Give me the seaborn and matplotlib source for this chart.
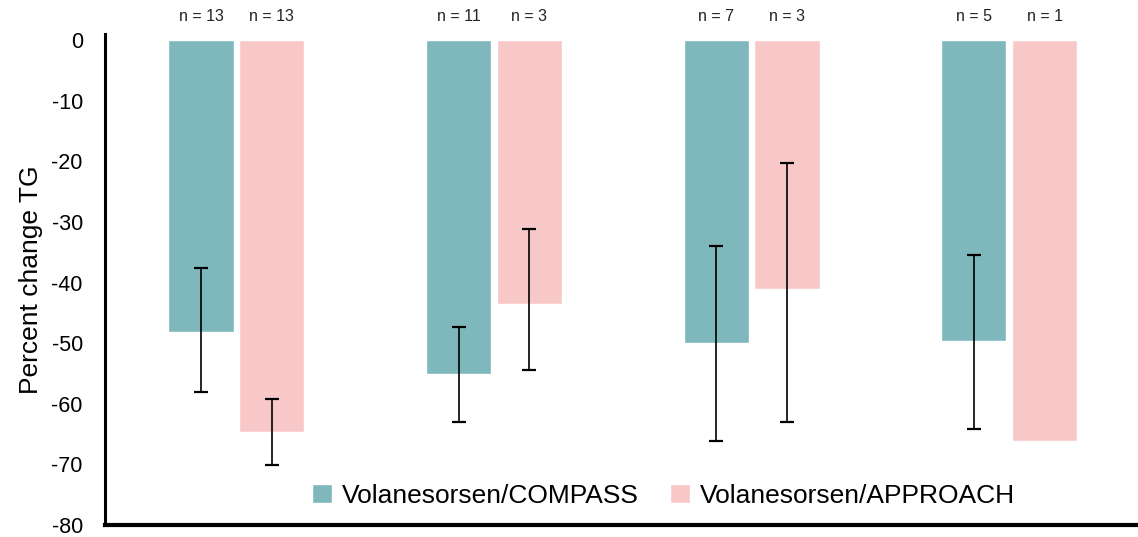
import numpy as np
import pandas as pd
import matplotlib
matplotlib.use("Agg")
import matplotlib.pyplot as plt
import seaborn as sns

# ================================================
#  Datos
# ================================================

grupos = ["G1", "G2", "G3", "G4"]
series = ["Volanesorsen/COMPASS", "Volanesorsen/APPROACH"]

compass_media = [-48.1, -55.1, -49.9, -49.6]
compass_inf = [-58.1, -63.0, -66.1, -64.2]
compass_sup = [-37.6, -47.4, -33.9, -35.5]
compass_n = [13, 11, 7, 5]

approach_media = [-64.6, -43.5, -41.0, -66.2]
approach_inf = [-70.1, -54.4, -63.0, np.nan]
approach_sup = [-59.2, -31.1, -20.3, np.nan]
approach_n = [13, 3, 3, 1]

colores = ["#7FB8BC", "#F8C8C8"]

# Armo la tabla en formato largo para seaborn
df = pd.DataFrame({
    "grupo": grupos * 2,
    "serie": [series[0]] * 4 + [series[1]] * 4,
    "cambio": compass_media + approach_media,
})

# ================================================
#  Gráfico
# ================================================

sns.set_theme(style="white")
plt.rcParams["font.family"] = ["Liberation Sans", "DejaVu Sans"]
plt.rcParams["axes.unicode_minus"] = False
plt.rcParams["text.color"] = "black"

fig = plt.figure(figsize=(11.38, 5.37), dpi=100)
ax = fig.add_axes([0.0923, 0.0223, 0.9077, 0.9144])

sns.barplot(data=df, x="grupo", y="cambio", hue="serie", palette=colores,
            saturation=1, width=0.55, gap=0.08, errorbar=None, ax=ax)

# Barras de error y etiquetas n = ...
info = [(compass_media, compass_inf, compass_sup, compass_n),
        (approach_media, approach_inf, approach_sup, approach_n)]
for cont, (media, inf, sup, ns) in zip(ax.containers, info):
    xs = [p.get_x() + p.get_width() / 2 for p in cont.patches]
    media = np.array(media)
    yerr = np.vstack([media - np.array(inf), np.array(sup) - media])
    ax.errorbar(xs, media, yerr=yerr, fmt="none", ecolor="black",
                elinewidth=1.2, capsize=4.7, capthick=1.6, zorder=5)
    for x, n in zip(xs, ns):
        ax.text(x, 3.85, f"n = {n}", ha="center", va="center",
                fontsize=11.5, color="#222222", clip_on=False)

ax.set_ylim(-80, 1)
ax.set_xlim(-0.51, 3.5)
ax.set_yticks(range(-80, 1, 10))
ax.set_xticks([])
ax.set_xlabel("")
ax.set_ylabel("Percent change TG", fontsize=19, labelpad=6, color="black")
ax.tick_params(axis="y", length=0, pad=16, labelsize=15.5, labelcolor="black")

sns.despine(ax=ax)
ax.spines["left"].set_linewidth(2.2)
ax.spines["bottom"].set_linewidth(3)
ax.spines["left"].set_color("black")
ax.spines["bottom"].set_color("black")

sns.move_legend(ax, "center", bbox_to_anchor=(0.5407, 0.06), ncol=2,
                frameon=False, title=None, fontsize=19, handlelength=0.76,
                handleheight=0.76, handletextpad=0.35, columnspacing=1.2,
                labelcolor="black")

fig.savefig("out.png", dpi=100)
